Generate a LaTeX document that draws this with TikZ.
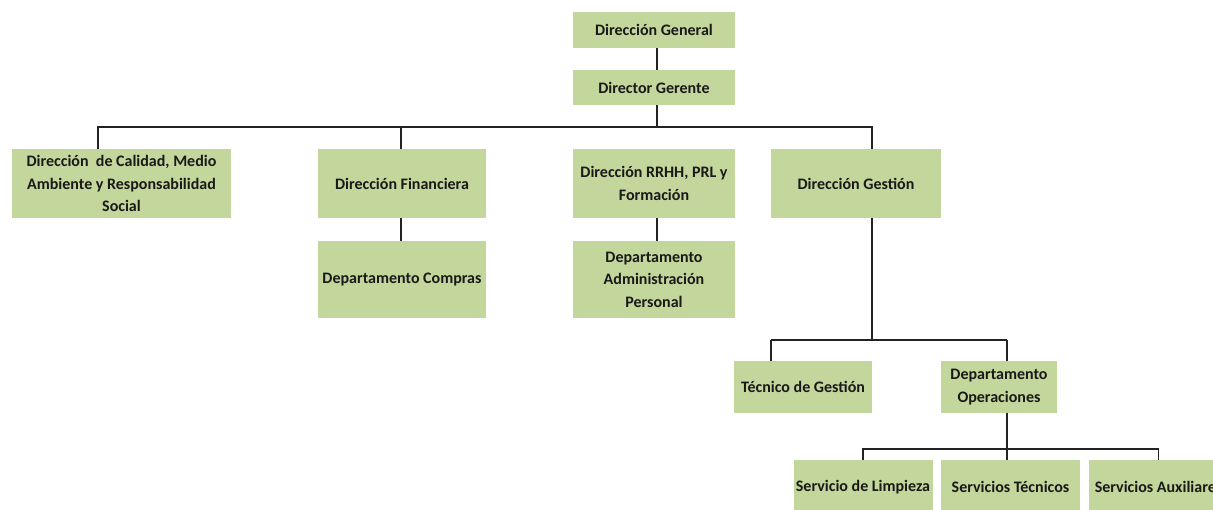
\documentclass[tikz,border=0pt]{standalone}
\usepackage{fontspec}
\setmainfont{Carlito}
\usetikzlibrary{calc}
\definecolor{OrgGreen}{RGB}{195,214,155}
\definecolor{OrgInk}{RGB}{25,25,25}
\definecolor{OrgLine}{RGB}{35,35,35}
\tikzset{
  org/box/.style={
    fill=OrgGreen,
    draw=none,
    align=center,
    text=OrgInk,
    inner sep=2pt,
    font=\fontsize{16}{22.5}\selectfont\bfseries
  },
  org/line/.style={draw=OrgLine, line width=1.2pt},
  org/bus/.style={draw=OrgLine, line width=2.2pt}
}

\begin{document}
\begin{tikzpicture}[x=1pt,y=-1pt]
  \useasboundingbox[fill=white] (0,0) rectangle (1213,509);
  % top of the chart
  \node[org/box,minimum width=162pt,minimum height=36pt] (gen) at (654,30) {Dirección General};
  \node[org/box,minimum width=162pt,minimum height=35pt] (ger) at (654,87.5) {Director Gerente};
  % directions
  \node[org/box,minimum width=219pt,minimum height=69pt] (cal) at (121.5,183.5) {Dirección~ de Calidad, Medio\\Ambiente y Responsabilidad\\Social};
  \node[org/box,minimum width=168pt,minimum height=69pt] (fin) at (402,183.5) {Dirección Financiera};
  \node[org/box,minimum width=162pt,minimum height=69pt] (rrhh) at (654,183.5) {Dirección RRHH, PRL y\\Formación};
  \node[org/box,minimum width=170pt,minimum height=69pt] (ges) at (856,183.5) {Dirección Gestión};
  % departments
  \node[org/box,minimum width=168pt,minimum height=77pt] (com) at (402,279.5) {Departamento Compras};
  \node[org/box,minimum width=162pt,minimum height=77pt] (adm) at (654,279.5) {Departamento\\Administración\\Personal};
  \node[org/box,minimum width=138pt,minimum height=52pt] (tec) at (803,387) {Técnico de Gestión};
  \node[org/box,minimum width=116pt,minimum height=52pt] (ope) at (999,387) {Departamento\\Operaciones};
  % services
  \node[org/box,minimum width=139pt,minimum height=54pt] (lim) at (863,487) {Servicio de Limpieza};
  \node[org/box,minimum width=139pt,minimum height=54pt] (tcn) at (1010.5,487) {Servicios Técnicos};
  \node[org/box,minimum width=139pt,minimum height=54pt] (aux) at (1158.5,487) {Servicios Auxiliares};

  \coordinate (bus1) at (657,127);
  \coordinate (bus2) at (872,340);
  \coordinate (bus3) at (1007,449);

  \draw[org/line] ([xshift=3pt]gen.south) -- ([xshift=3pt]ger.north);
  \draw[org/line] ([xshift=3pt]ger.south) -- (bus1);
  \draw[org/line] ([xshift=-23.5pt]cal.north) |- (bus1) -| ([xshift=16pt]ges.north);
  \draw[org/line] ([xshift=-1pt]fin.north) -- ([xshift=-1pt]fin.north |- bus1);
  \draw[org/line] ([xshift=-1pt]fin.south) -- ([xshift=-1pt]com.north);
  \draw[org/line] ([xshift=3pt]rrhh.south) -- ([xshift=3pt]adm.north);

  \draw[org/line] ([xshift=16pt]ges.south) -- (bus2);
  \draw[org/bus] ([xshift=-32pt]tec.north |- bus2) -- ([xshift=8pt]ope.north |- bus2);
  \draw[org/line] ([xshift=-32pt]tec.north) -- ([xshift=-32pt]tec.north |- bus2);
  \draw[org/line] ([xshift=8pt]ope.north) -- ([xshift=8pt]ope.north |- bus2);

  \draw[org/line] ([xshift=8pt]ope.south) -- ([xshift=-3.5pt]tcn.north);
  \draw[org/line] (lim.north) |- (bus3) -| (aux.north);
\end{tikzpicture}
\end{document}
